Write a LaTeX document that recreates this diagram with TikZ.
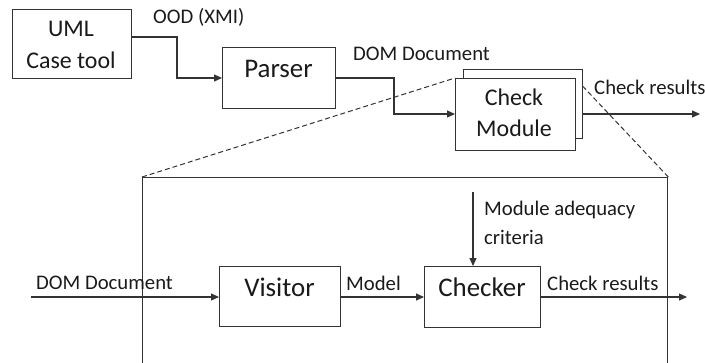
\documentclass[tikz,border=0pt]{standalone}
\usepackage{fontspec}
\setmainfont{Carlito}
\usetikzlibrary{arrows.meta}
\definecolor{ln}{HTML}{333333}
\definecolor{tx}{HTML}{1A1A1A}
\tikzset{
  box/.style={draw=ln, line width=1.3bp, fill=white, rectangle, inner sep=0pt},
  boxtext/.style={inner sep=0pt, text=tx, font=\fontsize{27}{32}\selectfont},
  smalltext/.style={inner sep=0pt, text=tx, font=\fontsize{20.8}{25}\selectfont},
  midtext/.style={inner sep=0pt, text=tx, font=\fontsize{24}{28}\selectfont},
  conn/.style={draw=ln, line width=1.1bp, -{Triangle[length=8bp,width=7bp]}},
  zoomline/.style={draw=ln, line width=1bp, dash pattern=on 5bp off 3bp},
}
\begin{document}
\begin{tikzpicture}[x=1bp,y=-1bp]
\useasboundingbox (0,0) rectangle (705,362);
% big frame (clipped at bottom)
\begin{scope}
\clip (0,0) rectangle (705,362);
\node[box, fill=none, anchor=north west, minimum width=525bp, minimum height=220bp] (frame) at (142,177) {};
\end{scope}
% UML
\node[box, anchor=north west, minimum width=119bp, minimum height=69bp] (uml) at (12,9) {};
\node[midtext] (umlt1) at (71,29) {UML};
\node[midtext] (umlt2) at (71,60) {Case tool};
% Parser
\node[box, anchor=north west, minimum width=113bp, minimum height=61bp] (parser) at (222,47) {};
\node[boxtext] (parsert) at (278.5,69) {Parser};
% zoom lines
\coordinate (ftl) at (455,78);
\coordinate (ftr) at (575,78);
\draw[zoomline] (frame.north west) -- (ftl);
\draw[zoomline] (frame.north east) -- (ftr);
% Check module
\node[box, anchor=north west, minimum width=119bp, minimum height=69bp] (back) at (463,69) {};
\node[box, anchor=north west, minimum width=120bp, minimum height=72bp] (check) at (455,78) {};
\node[midtext] (checkt1) at (514,97) {Check};
\node[midtext] (checkt2) at (514,128) {Module};
% connectors top
\coordinate (outtop) at (700,114);
\draw[conn] (uml.east |- 0,37) -| (177,78) -- (parser.west |- 0,78);
\node[smalltext, anchor=west] (oodl) at (153,17) {OOD (XMI)};
\draw[conn] (parser.east |- 0,78) -| (394,114) -- (check.west |- 0,114);
\node[smalltext, anchor=west] (doml) at (353,54) {DOM Document};
\draw[conn] (back.east |- outtop) -- (outtop);
\node[smalltext, anchor=west] (resl) at (594,87) {Check results};
% lower
\node[box, anchor=north west, minimum width=121bp, minimum height=60bp] (visitor) at (219,266) {};
\node[boxtext] (visitort) at (279.5,287) {Visitor};
\node[box, anchor=north west, minimum width=116bp, minimum height=61bp] (checker) at (424,266) {};
\node[boxtext] (checkert) at (482,287) {Checker};
\coordinate (in) at (31,297);
\coordinate (out) at (687,297);
\coordinate (crit) at (473,192);
\draw[conn] (in) -- (visitor.west |- in);
\node[smalltext, anchor=west] (domin) at (36,283) {DOM Document};
\draw[conn] (visitor.east |- in) -- (checker.west |- in);
\node[smalltext, anchor=west] (model) at (346,283) {Model};
\draw[conn] (checker.east |- out) -- (out);
\node[smalltext, anchor=west] (res2) at (547,283) {Check results};
\draw[conn] (crit) -- (checker.north -| crit);
\node[smalltext, anchor=west] (crit1) at (484,210) {Module adequacy};
\node[smalltext, anchor=west] (crit2) at (484,237) {criteria};
\end{tikzpicture}
\end{document}
